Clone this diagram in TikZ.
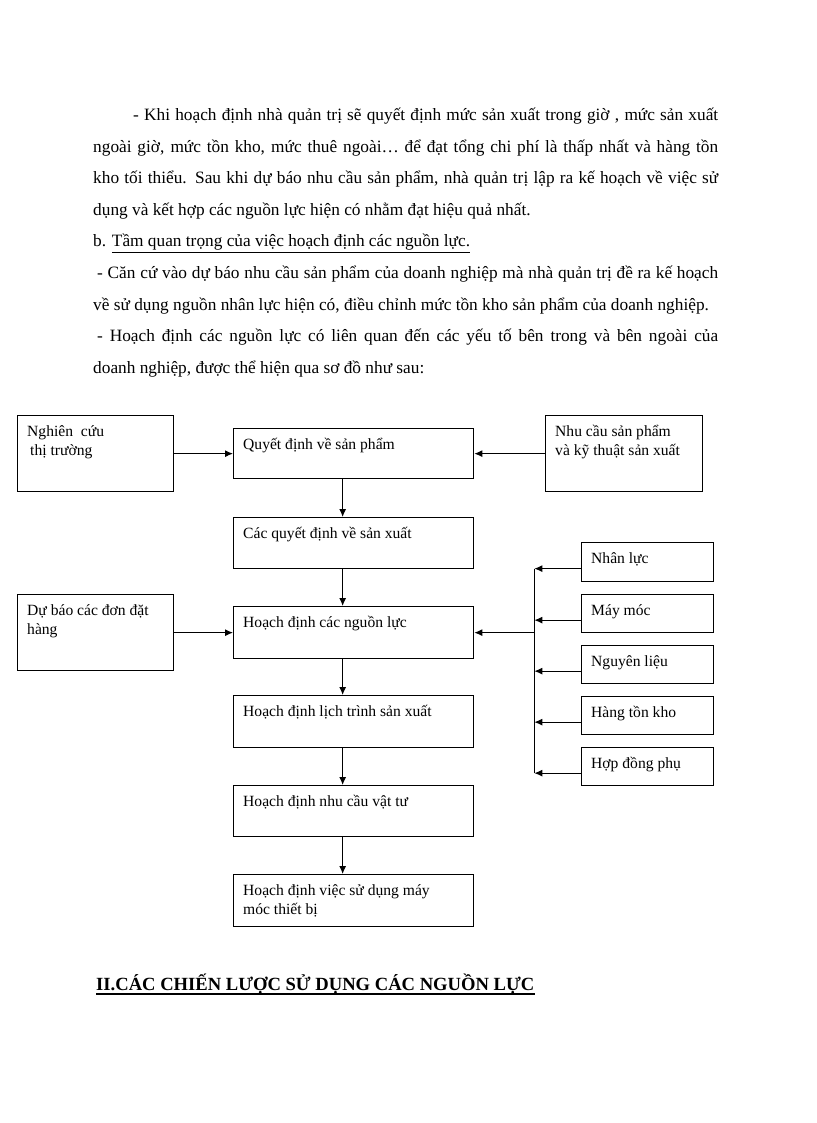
\documentclass[tikz,border=0pt]{standalone}
\usepackage{fontspec}
\setmainfont{Liberation Serif}
\usetikzlibrary{arrows.meta}

\begin{document}
\begin{tikzpicture}[x=1pt, y=-1pt,
		box/.style={draw, line width=1.3pt, anchor=north west, inner sep=0pt},
		boxtext/.style={anchor=base west, xshift=10pt, yshift=-21pt, inner sep=0pt, align=left, font=\fontsize{15.6}{19}\selectfont},
		twolines/.style={yshift=-19pt},
		arr/.style={line width=1.1pt, -{Latex[length=8pt, width=7pt]}},
		bodyline/.style={anchor=base west, inner sep=0pt, font=\fontsize{17.3}{20}\selectfont}]
		%%%%% START %%%%%
		
		\useasboundingbox (0,0) rectangle (816,1123);
		
		\node[bodyline] (l1) at (133,121) {\makebox[585pt][s]{- Khi hoạch định nhà quản trị sẽ quyết định mức sản xuất trong giờ , mức sản xuất}};
		\node[bodyline] (l2) at (93,152.5) {\makebox[625pt][s]{ngoài giờ, mức tồn kho, mức thuê ngoài… để đạt tổng chi phí là thấp nhất và hàng tồn}};
		\node[bodyline] (l3) at (93,184) {\makebox[625pt][s]{kho tối thiểu. Sau khi dự báo nhu cầu sản phẩm, nhà quản trị lập ra kế hoạch về việc sử}};
		\node[bodyline] (l4) at (93,215.5) {dụng và kết hợp các nguồn lực hiện có nhằm đạt hiệu quả nhất.};
		\node[bodyline] (l5) at (93,247) {b. \underline{Tầm quan trọng của việc hoạch định các nguồn lực.}};
		\node[bodyline] (l6) at (97,278.5) {\makebox[621pt][s]{- Căn cứ vào dự báo nhu cầu sản phẩm của doanh nghiệp mà nhà quản trị đề ra kế hoạch}};
		\node[bodyline] (l7) at (93,310) {về sử dụng nguồn nhân lực hiện có, điều chỉnh mức tồn kho sản phẩm của doanh nghiệp.};
		\node[bodyline] (l8) at (97,341.5) {\makebox[621pt][s]{- Hoạch định các nguồn lực có liên quan đến các yếu tố bên trong và bên ngoài của}};
		\node[bodyline] (l9) at (93,373) {doanh nghiệp, được thể hiện qua sơ đồ như sau:};
		
		% left column
		\node[box, minimum width=156, minimum height=76, label={[boxtext, twolines]north west:{Nghiên\ \ cứu\\\hspace{3pt}thị trường}}] (nctt) at (17,415) {};
		\node[box, minimum width=156, minimum height=76, label={[boxtext, twolines]north west:{Dự báo các đơn đặt\\hàng}}] (dbdh) at (17,594) {};
		
		% middle column
		\node[box, minimum width=240, minimum height=50, label={[boxtext]north west:{Quyết định về sản phẩm}}] (qdsp) at (233,428) {};
		\node[box, minimum width=240, minimum height=51, label={[boxtext]north west:{Các quyết định về sản xuất}}] (qdsx) at (233,517) {};
		\node[box, minimum width=240, minimum height=52, label={[boxtext]north west:{Hoạch định các nguồn lực}}] (hdnl) at (233,606) {};
		\node[box, minimum width=240, minimum height=52, label={[boxtext]north west:{Hoạch định lịch trình sản xuất}}] (hdlt) at (233,695) {};
		\node[box, minimum width=240, minimum height=51, label={[boxtext]north west:{Hoạch định nhu cầu vật tư}}] (hdvt) at (233,785) {};
		\node[box, minimum width=240, minimum height=52, label={[boxtext, twolines]north west:{Hoạch định việc sử dụng máy\\móc thiết bị}}] (hdmm) at (233,874) {};
		
		% right column
		\node[box, minimum width=157, minimum height=76, label={[boxtext, twolines]north west:{Nhu cầu sản phẩm\\và kỹ thuật sản xuất}}] (nckt) at (545,415) {};
		\node[box, minimum width=132, minimum height=39, label={[boxtext]north west:{Nhân lực}}] (nhan) at (581,542) {};
		\node[box, minimum width=132, minimum height=38, label={[boxtext]north west:{Máy móc}}] (may) at (581,594) {};
		\node[box, minimum width=132, minimum height=38, label={[boxtext]north west:{Nguyên liệu}}] (nguyen) at (581,645) {};
		\node[box, minimum width=132, minimum height=38, label={[boxtext]north west:{Hàng tồn kho}}] (hang) at (581,696) {};
		\node[box, minimum width=132, minimum height=38, label={[boxtext]north west:{Hợp đồng phụ}}] (hop) at (581,747) {};
		
		% arrows
		\draw[arr] (nctt.east) -- (qdsp.west);
		\draw[arr] (nckt.west) -- (qdsp.east);
		\draw[arr] (dbdh.east) -- (hdnl.west);
		
		\draw[arr] ([xshift=-11pt]qdsp.south) -- ([xshift=-11pt]qdsx.north);
		\draw[arr] ([xshift=-11pt]qdsx.south) -- ([xshift=-11pt]hdnl.north);
		\draw[arr] ([xshift=-11pt]hdnl.south) -- ([xshift=-11pt]hdlt.north);
		\draw[arr] ([xshift=-11pt]hdlt.south) -- ([xshift=-11pt]hdvt.north);
		\draw[arr] ([xshift=-11pt]hdvt.south) -- ([xshift=-11pt]hdmm.north);
		
		\coordinate (bus) at ([xshift=60pt]hdnl.east);
		\coordinate (bustop) at ([yshift=-6.5pt]nhan.west -| bus);
		\coordinate (busbot) at ([yshift=-6.5pt]hop.west -| bus);
		\draw[line width=1.1pt] (bustop) -- (busbot);
		\draw[arr] (bus) -- (hdnl.east);
		\foreach \b in {nhan,may,nguyen,hang,hop}
		\draw[arr] ([yshift=-6.5pt]\b.west) -- ([yshift=-6.5pt]\b.west -| bus);
		
		\node[anchor=base west, inner sep=0pt, font=\fontsize{18.6}{21}\selectfont\bfseries] (tieude) at (96,990) {II.CÁC CHIẾN LƯỢC SỬ DỤNG CÁC NGUỒN LỰC};
		\draw[line width=1.6pt] ([yshift=-4pt]tieude.base west) -- ([yshift=-4pt]tieude.base east);
		
		%%%%% END %%%%%
	\end{tikzpicture}
\end{document}
